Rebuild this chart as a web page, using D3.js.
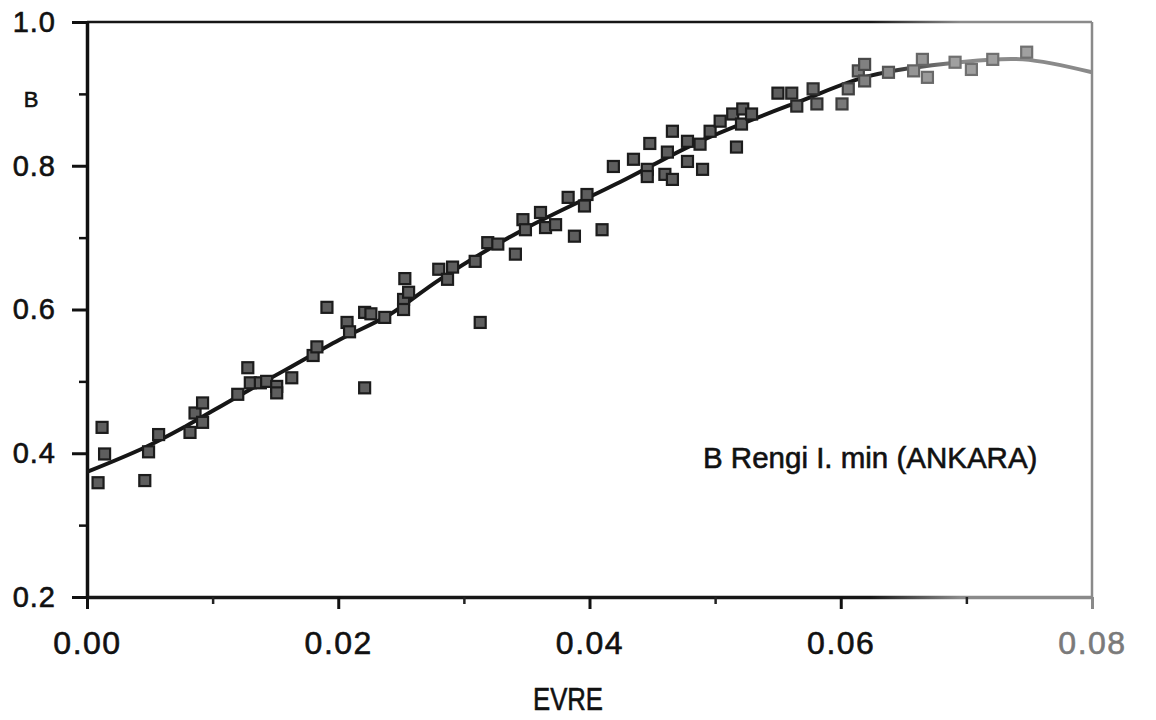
<!DOCTYPE html>
<html>
<head>
<meta charset="utf-8">
<script src="https://cdn.jsdelivr.net/npm/d3@7"></script>
<style>
  body { margin: 0; background: #fff; }
  svg { display: block; font-family: 'Liberation Sans', Arial, sans-serif; }
</style>
</head>
<body>
<div id="app"></div>
<script>
// measured points: EVRE (x) and B (y)
const evre = [0.00088, 0.0012, 0.0014, 0.0046, 0.0049, 0.0057, 0.0082, 0.0086, 0.0092, 0.0092,
  0.0120, 0.0128, 0.0130, 0.0138, 0.0143, 0.0151, 0.0151, 0.0163, 0.0180, 0.0183,
  0.0191, 0.0207, 0.0209, 0.0221, 0.0226, 0.0221, 0.0237, 0.0252, 0.0256, 0.0253,
  0.0252, 0.0280, 0.0291, 0.0287, 0.0309, 0.0313, 0.0319, 0.0327, 0.0341, 0.0347,
  0.0349, 0.0361, 0.0365, 0.0373, 0.0383, 0.0388, 0.0398, 0.0396, 0.0410, 0.0419,
  0.0435, 0.0446, 0.0448, 0.0446, 0.0460, 0.0466, 0.0462, 0.0466, 0.0478, 0.0478,
  0.0488, 0.0490, 0.0496, 0.0504, 0.0514, 0.0517, 0.0522, 0.0521, 0.0529, 0.0550,
  0.0561, 0.0565, 0.0578, 0.0581, 0.0601, 0.0606, 0.0614, 0.0619, 0.0619, 0.0638,
  0.0658, 0.0665, 0.0669, 0.0691, 0.0704, 0.0721, 0.0748]
const bValues = [0.359, 0.436, 0.399, 0.362, 0.402, 0.426, 0.429, 0.456, 0.470, 0.443,
  0.482, 0.519, 0.498, 0.498, 0.500, 0.493, 0.484, 0.505, 0.536, 0.548,
  0.603, 0.582, 0.569, 0.596, 0.594, 0.491, 0.589, 0.614, 0.624, 0.643,
  0.600, 0.656, 0.659, 0.642, 0.667, 0.582, 0.693, 0.691, 0.677, 0.725,
  0.711, 0.735, 0.714, 0.718, 0.756, 0.702, 0.760, 0.744, 0.711, 0.799,
  0.809, 0.795, 0.831, 0.785, 0.788, 0.781, 0.819, 0.848, 0.834, 0.806,
  0.830, 0.795, 0.848, 0.862, 0.872, 0.826, 0.879, 0.858, 0.872, 0.901,
  0.901, 0.883, 0.907, 0.886, 0.886, 0.907, 0.932, 0.941, 0.918, 0.930,
  0.932, 0.948, 0.923, 0.944, 0.934, 0.948, 0.958]

// smoothed fit curve
const fitEvre = [0, 0.0046, 0.0078, 0.0118, 0.0158, 0.0201, 0.0241, 0.0281, 0.0345, 0.0424,
  0.0488, 0.0568, 0.0623, 0.0695, 0.0745, 0.08]
const fitB = [0.374, 0.408, 0.437, 0.477, 0.516, 0.558, 0.593, 0.642, 0.709, 0.777,
  0.834, 0.890, 0.925, 0.944, 0.948, 0.930]

const xTicks = [0, 0.02, 0.04, 0.06, 0.08]
const xTickLabels = ['0.00', '0.02', '0.04', '0.06', '0.08']
const xMinor = [0.01, 0.03, 0.05, 0.07]
const yTicks = [0.2, 0.4, 0.6, 0.8, 1.0]
const yTickLabels = ['0.2', '0.4', '0.6', '0.8', '1.0']
const yMinor = [0.3, 0.5, 0.7, 0.9]

const W = 1156, H = 720
const x = d3.scaleLinear().domain([0, 0.08]).range([87, 1092])
const y = d3.scaleLinear().domain([0.2, 1.0]).range([597, 22])

const svg = d3.select('#app').append('svg').attr('width', W).attr('height', H)

// the scan fades to grey on the right side
const grad = svg.append('defs').append('linearGradient')
  .attr('id', 'fade').attr('gradientUnits', 'userSpaceOnUse')
  .attr('x1', 870).attr('x2', 960).attr('y1', 0).attr('y2', 0)
grad.append('stop').attr('offset', 0).attr('stop-color', '#161616')
grad.append('stop').attr('offset', 1).attr('stop-color', '#8a8a8a')

const markFill = d3.scaleLinear().domain([0.055, 0.068]).range(['#5e5e5e', '#a0a0a0']).clamp(true)
const markStroke = d3.scaleLinear().domain([0.055, 0.068]).range(['#1c1c1c', '#707070']).clamp(true)

// scanned text looks heavier than plain regular
const inked = (sel, c) => sel.attr('fill', c).attr('stroke', c).attr('stroke-width', 0.6)

// frame: top and right
svg.append('line').attr('x1', x(0)).attr('x2', x(0.08)).attr('y1', y(1)).attr('y2', y(1))
  .attr('stroke', 'url(#fade)').attr('stroke-width', 2.5)
svg.append('line').attr('x1', x(0.08)).attr('x2', x(0.08)).attr('y1', y(1)).attr('y2', y(0.2))
  .attr('stroke', '#8a8a8a').attr('stroke-width', 2.5)

// left axis
const yAxis = svg.append('g').attr('transform', `translate(${x(0)},0)`)
  .call(d3.axisLeft(y).tickValues(yTicks).tickSize(15).tickSizeOuter(0).tickPadding(16)
    .tickFormat((d, i) => yTickLabels[i]))
yAxis.select('.domain').attr('stroke', '#111').attr('stroke-width', 3.5)
yAxis.selectAll('.tick line').attr('stroke', '#111').attr('stroke-width', 3)
yAxis.selectAll('.tick text').attr('font-size', 29).attr('letter-spacing', 1)
  .attr('font-family', 'Liberation Sans, Arial, sans-serif').call(inked, '#111')
svg.append('g').attr('transform', `translate(${x(0)},0)`)
  .call(d3.axisLeft(y).tickValues(yMinor).tickSize(8).tickFormat(''))
  .call(g => g.select('.domain').remove())
  .selectAll('.tick line').attr('stroke', '#111').attr('stroke-width', 2.5)

// bottom axis
const xAxis = svg.append('g').attr('transform', `translate(0,${y(0.2)})`)
  .call(d3.axisBottom(x).tickValues(xTicks).tickSize(12).tickSizeOuter(0).tickPadding(22)
    .tickFormat((d, i) => xTickLabels[i]))
xAxis.select('.domain').attr('stroke', 'url(#fade)').attr('stroke-width', 3.5)
xAxis.selectAll('.tick line').attr('stroke', (d) => d === 0.08 ? '#8a8a8a' : '#111').attr('stroke-width', 3)
xAxis.selectAll('.tick text').attr('font-size', 32).attr('letter-spacing', 1.5)
  .attr('font-family', 'Liberation Sans, Arial, sans-serif')
  .each(function (d) { d3.select(this).call(inked, d === 0.08 ? '#7a7a7a' : '#111') })
svg.append('g').attr('transform', `translate(0,${y(0.2)})`)
  .call(d3.axisBottom(x).tickValues(xMinor).tickSize(7).tickFormat(''))
  .call(g => g.select('.domain').remove())
  .selectAll('.tick line').attr('stroke', '#222').attr('stroke-width', 2.5)

// axis titles
svg.append('text').attr('x', 31).attr('y', 107).attr('text-anchor', 'middle')
  .attr('font-size', 22).call(inked, '#111').text('B')
svg.append('text').attr('x', 533).attr('y', 710)
  .attr('font-size', 31).call(inked, '#111')
  .attr('textLength', 70).attr('lengthAdjust', 'spacingAndGlyphs').text('EVRE')

// annotation
svg.append('text').attr('x', 703).attr('y', 468)
  .attr('font-size', 29.5).call(inked, '#111').text('B Rengi I. min (ANKARA)')

// fit line
const fitData = fitEvre.map((d, i) => [d, fitB[i]])
svg.append('path').datum(fitData)
  .attr('d', d3.line().x(d => x(d[0])).y(d => y(d[1])).curve(d3.curveCatmullRom.alpha(0.5)))
  .attr('fill', 'none').attr('stroke', 'url(#fade)').attr('stroke-width', 4)

// data squares
const pts = evre.map((d, i) => ({ e: d, b: bValues[i] }))
const s = 11
svg.append('g').selectAll('rect').data(pts).join('rect')
  .attr('x', d => x(d.e) - s / 2)
  .attr('y', d => y(d.b) - s / 2)
  .attr('width', s).attr('height', s)
  .attr('fill', d => markFill(d.e))
  .attr('stroke', d => markStroke(d.e))
  .attr('stroke-width', 2.2)
</script>
</body>
</html>
